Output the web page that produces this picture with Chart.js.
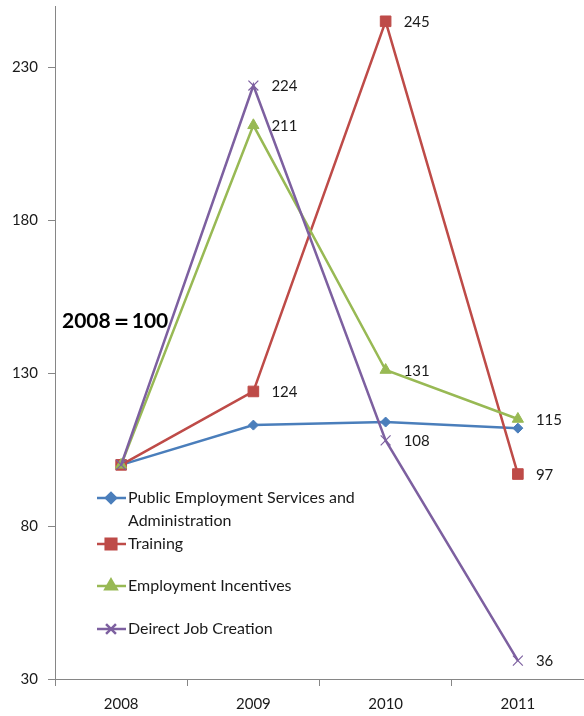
<!DOCTYPE html>
<html>
<head>
<meta charset="utf-8">
<script src="https://cdn.jsdelivr.net/npm/chart.js@4/dist/chart.umd.min.js"></script>
<style>
  html, body { margin: 0; padding: 0; background: #fff; }
  #wrap { position: relative; width: 584px; height: 716px; }
</style>
</head>
<body>
<div id="wrap"><canvas id="chart" width="584" height="716"></canvas></div>
<script>
const years = ["2008", "2009", "2010", "2011"];
const yTicks = [30, 80, 130, 180, 230];

const publicServices = [100, 113, 114, 112];
const training = [100, 124, 245, 97];
const incentives = [100, 211, 131, 115];
const directJobs = [100, 224, 108, 36];

const seriesNames = ["Public Employment Services and Administration", "Training", "Employment Incentives", "Deirect Job Creation"];
const showLabels = [false, true, true, true];

const font = "Lato, 'Open Sans', sans-serif";
const colors = ["#4a7ebb", "#be4b48", "#98b954", "#7d60a0"];
const markers = [
    { style: "rectRot", r: 5 },
    { style: "rect", r: 7.5 },
    { style: "triangle", r: 6.5 },
    { style: "crossRot", r: 7 }
];

// data labels next to each point, the base note and the legend
const valueLabels = {
    id: "valueLabels",
    afterDatasetsDraw(chart) {
        const ctx = chart.ctx;
        ctx.save();
        ctx.font = "15px " + font;
        ctx.fillStyle = "#1a1a1a";
        ctx.textBaseline = "middle";
        chart.data.datasets.forEach((ds, i) => {
            if (!showLabels[i]) return;
            const meta = chart.getDatasetMeta(i);
            meta.data.forEach((pt, j) => {
                if (j === 0) return;
                ctx.fillText(ds.data[j], pt.x + 18, pt.y + 1);
            });
        });

        ctx.font = "bold 21px " + font;
        ctx.fillStyle = "#000";
        ctx.fillText("2008\uFF1D100", 62, 321);

        const rows = [498, 544, 586, 629];
        ctx.font = "16px " + font;
        rows.forEach((y, i) => {
            ctx.strokeStyle = colors[i];
            ctx.lineWidth = 2.5;
            ctx.beginPath();
            ctx.moveTo(97, y);
            ctx.lineTo(126, y);
            ctx.stroke();
            Chart.helpers.drawPoint(ctx, {
                pointStyle: markers[i].style,
                radius: markers[i].r,
                rotation: 0,
                borderWidth: markers[i].style === "crossRot" ? 1.2 : 1
            }, 111, y);
            if (markers[i].style !== "crossRot") {
                ctx.fillStyle = colors[i];
                ctx.fill();
            }
            ctx.fillStyle = "#1a1a1a";
            if (i === 0) {
                ctx.fillText("Public Employment Services and", 128, y);
                ctx.fillText("Administration", 128, y + 23);
            } else {
                ctx.fillText(seriesNames[i], 128, y);
            }
        });
        ctx.restore();
    }
};

function makeSet(i, data) {
    return {
        label: seriesNames[i],
        data: data,
        borderColor: colors[i],
        backgroundColor: colors[i],
        borderWidth: 2.5,
        pointStyle: markers[i].style,
        pointRadius: markers[i].r,
        pointBorderWidth: markers[i].style === "crossRot" ? 1.2 : 1,
        pointBorderColor: colors[i],
        pointBackgroundColor: colors[i],
        tension: 0,
        order: 3 - i
    };
}

const chart = new Chart(document.getElementById("chart").getContext("2d"), {
    type: "line",
    data: {
        labels: years,
        datasets: [
            makeSet(0, publicServices),
            makeSet(1, training),
            makeSet(2, incentives),
            makeSet(3, directJobs)
        ]
    },
    options: {
        responsive: false,
        animation: false,
        layout: { autoPadding: false, padding: { top: 6, right: 0, left: 0, bottom: 0 } },
        plugins: {
            legend: { display: false },
            tooltip: { enabled: false }
        },
        scales: {
            x: {
                offset: true,
                grid: { display: true, offset: true, drawOnChartArea: false, color: "#868686", tickLength: 7 },
                border: { color: "#868686", width: 1 },
                ticks: { color: "#1a1a1a", font: { family: font, size: 15 }, padding: 9, maxRotation: 0 },
                afterFit(scale) {
                    scale.height = 37;
                    scale.paddingLeft = 0;
                    scale.paddingRight = 0;
                }
            },
            y: {
                min: 30,
                max: 250,
                grid: { display: true, drawOnChartArea: false, color: "#868686", tickLength: 7 },
                border: { color: "#868686", width: 1 },
                ticks: { color: "#1a1a1a", font: { family: font, size: 15 }, padding: 10 },
                afterBuildTicks(scale) { scale.ticks = yTicks.map(v => ({ value: v })); },
                afterFit(scale) {
                    scale.width = 55;
                    scale.paddingTop = 0;
                    scale.paddingBottom = 0;
                }
            }
        }
    },
    plugins: [valueLabels]
});
</script>
</body>
</html>
